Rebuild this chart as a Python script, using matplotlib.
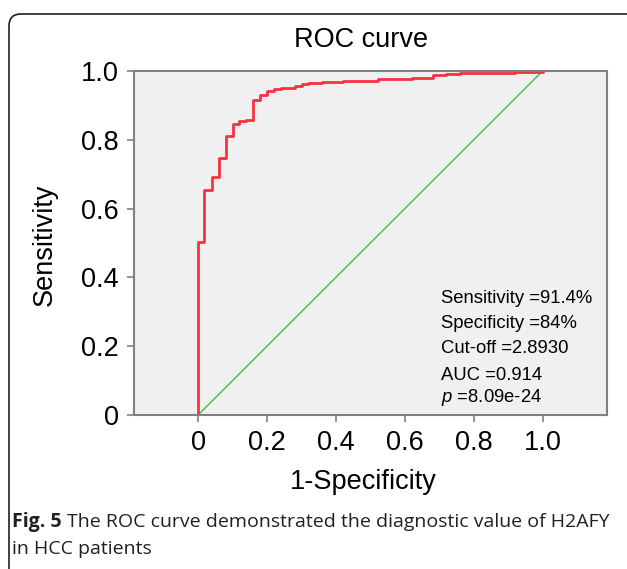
import matplotlib
matplotlib.use("Agg")
import matplotlib.pyplot as plt
from matplotlib.patches import FancyBboxPatch
from matplotlib.transforms import IdentityTransform

plt.rcParams['font.family'] = ['Liberation Sans', 'DejaVu Sans']
plt.rcParams['mathtext.fontset'] = 'custom'
plt.rcParams['mathtext.it'] = 'Liberation Sans:italic'
plt.rcParams['mathtext.rm'] = 'Liberation Sans'

# ROC step levels: tpr[i] holds from fpr[i] up to fpr[i+1]
fpr = [0, 0, 0.018, 0.04, 0.06, 0.08, 0.10, 0.12, 0.139, 0.159, 0.18, 0.199,
       0.22, 0.24, 0.282, 0.301, 0.32, 0.34, 0.361, 0.422, 0.522, 0.621,
       0.681, 0.72, 0.76, 0.92, 1.0]
tpr = [0, 0.502, 0.654, 0.691, 0.746, 0.812, 0.846, 0.854, 0.858, 0.916, 0.929,
       0.941, 0.947, 0.951, 0.956, 0.961, 0.964, 0.966, 0.969, 0.972, 0.976,
       0.981, 0.987, 0.990, 0.995, 0.997, 1.0]
ticks = [0, 0.2, 0.4, 0.6, 0.8, 1.0]
tick_labels = ['0', '0.2', '0.4', '0.6', '0.8', '1.0']
stats = ['Sensitivity =91.4%', 'Specificity =84%', 'Cut-off =2.8930',
         'AUC =0.914', '$p$ =8.09e-24']
stat_y = [0.340, 0.265, 0.192, 0.116, 0.052]

W, H = 627, 569
fig = plt.figure(figsize=(W / 100, H / 100), dpi=100)
ax = fig.add_axes([134 / W, 1 - 415 / H, (607 - 134) / W, (415 - 71) / H])
ax.set_facecolor('#f0f0f0')

ax.plot([0, 1], [0, 1], color='#3cbf4a', lw=1.0)
ax.step(fpr, tpr, where='post', color='#f7323f', lw=2.0)

ax.set_xlim(-0.186, 1.187)
ax.set_ylim(0, 1)
ax.set_xticks(ticks)
ax.set_xticklabels(tick_labels)
ax.set_yticks(ticks)
ax.set_yticklabels(tick_labels)
ax.tick_params(direction='out', length=5, width=1.2, color='#808080',
               labelsize=19.5, labelcolor='black', pad=6)
for s in ax.spines.values():
    s.set_color('#808080')
    s.set_linewidth(1.5)

for t, y in zip(stats, stat_y):
    ax.text(0.705, y, t, fontsize=13.3, va='center', ha='left')

fig.text(361 / W, 1 - 40 / H, 'ROC curve', fontsize=19.5, ha='center', va='center')
fig.text(45 / W, 1 - 245 / H, 'Sensitivity', fontsize=19.5, rotation=90,
         ha='center', va='center')
fig.text(363 / W, 1 - 482 / H, '1-Specificity', fontsize=19.5, ha='center', va='center')

# caption
cap_col = '#231f20'
bold = fig.text(12 / W, 1 - 522 / H, 'Fig. 5', fontsize=14, fontweight='bold',
                family='Open Sans', color=cap_col, va='center')
fig.canvas.draw()
bb = bold.get_window_extent()
fig.text((bb.x1 + 5) / W, 1 - 522 / H,
         'The ROC curve demonstrated the diagnostic value of H2AFY',
         fontsize=14, family='Open Sans', color=cap_col, va='center')
fig.text(12 / W, 1 - 549 / H, 'in HCC patients', fontsize=14,
         family='Open Sans', color=cap_col, va='center')

border = FancyBboxPatch((9, -30), 660, H - 14 + 30,
                        boxstyle='round,pad=0,rounding_size=12',
                        transform=IdentityTransform(), fill=False,
                        edgecolor='#231f20', lw=1.2)
fig.patches.append(border)

fig.savefig('out.png', dpi=100)
